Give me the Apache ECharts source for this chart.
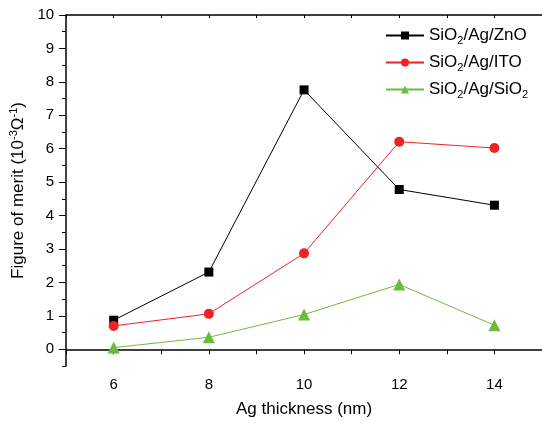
<!DOCTYPE html>
<html>
<head>
<meta charset="utf-8">
<script src="https://cdn.jsdelivr.net/npm/echarts@6/dist/echarts.min.js"></script>
<style>
html, body { margin: 0; padding: 0; background: #fff; }
#chartmain1 { width: 542px; height: 423px; }
</style>
</head>
<body>
<div id="chartmain1"></div>
<script>
var thickness = [6, 8, 10, 12, 14];
var zno = [0.87, 2.31, 7.76, 4.78, 4.31];
var ito = [0.70, 1.06, 2.87, 6.21, 6.02];
var sio2 = [0.05, 0.36, 1.04, 1.94, 0.72];
var xLabels = [6, 8, 10, 12, 14];
var yLabels = [0, 1, 2, 3, 4, 5, 6, 7, 8, 9, 10];
var yMinor = [-0.5, 0.5, 1.5, 2.5, 3.5, 4.5, 5.5, 6.5, 7.5, 8.5, 9.5];

function pairs(vals) {
    return thickness.map(function (t, i) { return [t, vals[i]]; });
}

var font = 'Liberation Sans, Arial, sans-serif';
var myChart = echarts.init(document.getElementById('chartmain1'));
var option = {
    animation: false,
    grid: { left: 66, top: 15, width: 478, height: 352 },
    legend: {
        left: 380,
        top: 22,
        orient: 'vertical',
        itemGap: 8,
        itemWidth: 38,
        itemHeight: 10,
        data: ['ZnO', 'ITO', 'SiO2'],
        formatter: function (n) {
            if (n === 'ZnO') return 'SiO{s|2}/Ag/ZnO';
            if (n === 'ITO') return 'SiO{s|2}/Ag/ITO';
            return 'SiO{s|2}/Ag/SiO{s|2}';
        },
        textStyle: {
            fontFamily: font, fontSize: 17, color: '#000',
            rich: { s: { fontFamily: font, fontSize: 11, verticalAlign: 'bottom', padding: [10, 0, 0, 0] } }
        }
    },
    xAxis: [
        {
            type: 'value', min: 5, max: 15, interval: 1,
            name: 'Ag thickness (nm)', nameLocation: 'middle', nameGap: 35,
            nameTextStyle: { fontFamily: font, fontSize: 17, color: '#000' },
            axisLine: { lineStyle: { color: '#000', width: 1.5 } },
            axisTick: { length: 5, lineStyle: { color: '#000', width: 1 } },
            axisLabel: {
                customValues: xLabels, margin: 11,
                fontFamily: font, fontSize: 15, color: '#000'
            },
            splitLine: { show: false }
        },
        {
            type: 'value', position: 'top', min: 5, max: 15, interval: 1,
            axisLine: { onZero: false, lineStyle: { color: '#000', width: 1.5 } },
            axisTick: { inside: true, length: 3, lineStyle: { color: '#000' } },
            axisLabel: { show: false },
            splitLine: { show: false }
        }
    ],
    yAxis: [
        {
            type: 'value', min: -0.5, max: 10,
            name: 'Figure of merit (10{u|-3}Ω{u|-1})',
            nameLocation: 'middle', nameGap: 35,
            nameTextStyle: {
                fontFamily: font, fontSize: 17, color: '#000',
                rich: { u: { fontFamily: font, fontSize: 11, verticalAlign: 'top', padding: [0, 0, 9, 0] } }
            },
            axisLine: { lineStyle: { color: '#000', width: 1.5 } },
            axisTick: { customValues: yLabels, length: 7, lineStyle: { color: '#000' } },
            axisLabel: {
                customValues: yLabels, margin: 12,
                fontFamily: font, fontSize: 15, color: '#000'
            },
            splitLine: { show: false }
        },
        {
            type: 'value', min: -0.5, max: 10, position: 'left',
            axisLine: { show: false },
            axisTick: { show: true, customValues: yMinor, length: 4, lineStyle: { color: '#000' } },
            axisLabel: { show: false },
            splitLine: { show: false }
        }
    ],
    series: [
        {
            name: 'ZnO', type: 'line', data: pairs(zno),
            symbol: 'rect', symbolSize: 9,
            lineStyle: { color: '#000', width: 1 },
            itemStyle: { color: '#000' }
        },
        {
            name: 'ITO', type: 'line', data: pairs(ito),
            symbol: 'circle', symbolSize: 10,
            lineStyle: { color: '#ee2222', width: 1 },
            itemStyle: { color: '#ee2222' }
        },
        {
            name: 'SiO2', type: 'line', data: pairs(sio2),
            symbol: 'triangle', symbolSize: 12,
            lineStyle: { color: '#6cbb3c', width: 1 },
            itemStyle: { color: '#6cbb3c' }
        }
    ]
};
myChart.setOption(option);
</script>
</body>
</html>
